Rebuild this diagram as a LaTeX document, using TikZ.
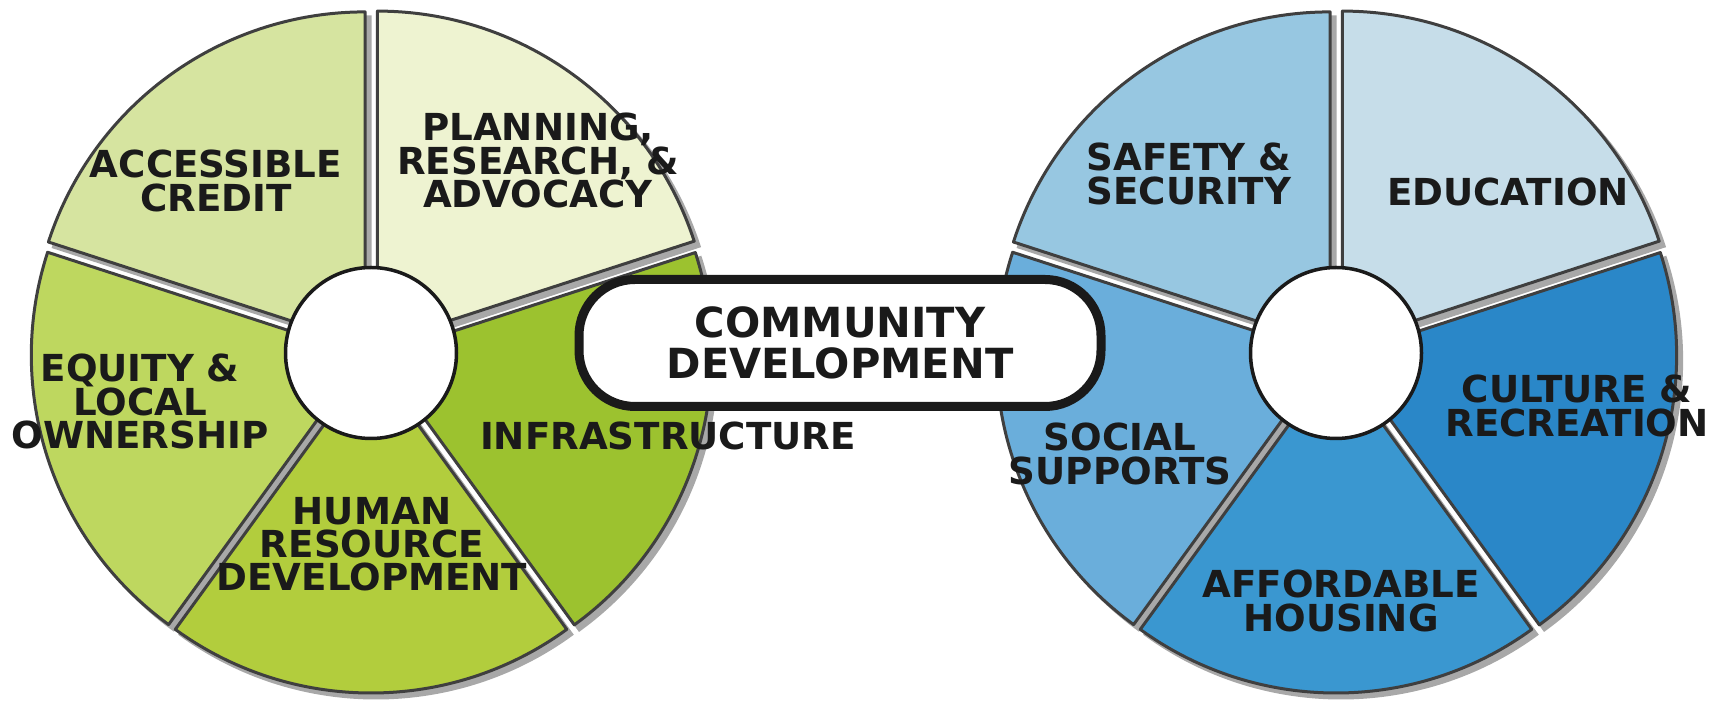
\documentclass[tikz,border=0pt]{standalone}
\usepackage{fontspec}
\setmainfont{DejaVu Sans}
\usetikzlibrary{calc}
\definecolor{segline}{HTML}{3F3F3F}
\definecolor{shadowgray}{HTML}{A8A8A8}
\definecolor{inkc}{HTML}{1A1A1A}
\definecolor{gAcc}{HTML}{D6E4A0}
\definecolor{gPlan}{HTML}{EEF3D1}
\definecolor{gInfra}{HTML}{9CC22F}
\definecolor{gHum}{HTML}{B2CD3D}
\definecolor{gEq}{HTML}{BED75F}
\definecolor{bSaf}{HTML}{97C7E1}
\definecolor{bEdu}{HTML}{C6DDE9}
\definecolor{bCul}{HTML}{2A87C8}
\definecolor{bAff}{HTML}{3A97D0}
\definecolor{bSoc}{HTML}{6AAEDB}
\newcommand\rad{333}
% #1 x, #2 y, #3 a1, #4 a2, #5 style, #6 colour, #7 offset
\newcommand\pieseg[7]{%
  \pgfmathsetmacro\segmid{(#3+#4)/2}%
  \path[#5, fill=#6] ($(#1,#2)+(\segmid:#7)$) -- ++(#3:\rad)
     arc[start angle=#3, end angle=#4, radius=\rad] -- cycle;%
}
\newcommand\wheel[7]{% #1 x, #2 style, #3..#7 colours (top-left, top-right, right, bottom, left)
  \pieseg{#1}{348}{90}{162}{#2}{#3}{10}
  \pieseg{#1}{348}{18}{90}{#2}{#4}{11}
  \pieseg{#1}{348}{-54}{18}{#2}{#5}{8}
  \pieseg{#1}{348}{-126}{-54}{#2}{#6}{7}
  \pieseg{#1}{348}{162}{234}{#2}{#7}{7}
}
\tikzset{
  shadowseg/.style={draw=shadowgray, line width=3pt, shift={(5pt,-5pt)}},
  seg/.style={draw=segline, line width=3pt, line join=round},
  hub/.style={circle, draw=inkc, line width=3.5pt, fill=white, minimum size=171pt, inner sep=0pt},
  lbl/.style={anchor=north, inner sep=0pt, align=center, text=inkc,
    font=\fontsize{37.2}{33.2}\selectfont\bfseries},
  pillbox/.style={rectangle, rounded corners=56pt, draw=inkc, line width=9pt, fill=white,
    minimum width=522pt, minimum height=127pt, inner sep=0pt, align=center, text=inkc,
    font=\fontsize{41.5}{41.5}\selectfont\bfseries}
}
\begin{document}
\begin{tikzpicture}[x=1pt,y=1pt]
\useasboundingbox (0,0) rectangle (1719,701);
% shadows
\wheel{371}{shadowseg}{shadowgray}{shadowgray}{shadowgray}{shadowgray}{shadowgray}
\wheel{1336}{shadowseg}{shadowgray}{shadowgray}{shadowgray}{shadowgray}{shadowgray}
% wheels
\wheel{371}{seg}{gAcc}{gPlan}{gInfra}{gHum}{gEq}
\wheel{1336}{seg}{bSaf}{bEdu}{bCul}{bAff}{bSoc}
% hubs
\node[hub] (hubL) at (371,348) {};
\node[hub] (hubR) at (1336,348) {};
% centre pill
\node[pillbox] (cd) at (840,358) {COMMUNITY\\DEVELOPMENT};
% labels
\node[lbl] (acc) at (216,551) {ACCESSIBLE\\CREDIT};
\node[lbl] (plan) at (538,588) {PLANNING,\\RESEARCH, \&\\ADVOCACY};
\node[lbl] (eq) at (140,347) {EQUITY \&\\LOCAL\\OWNERSHIP};
\node[lbl] (hum) at (372,204) {HUMAN\\RESOURCE\\DEVELOPMENT};
\node[lbl] (inf) at (668,279) {INFRASTRUCTURE};
\node[lbl] (saf) at (1189,558) {SAFETY \&\\SECURITY};
\node[lbl] (edu) at (1508,523) {EDUCATION};
\node[lbl] (cul) at (1577,326) {CULTURE \&\\RECREATION};
\node[lbl] (soc) at (1120,278) {SOCIAL\\SUPPORTS};
\node[lbl] (aff) at (1341,131) {AFFORDABLE\\HOUSING};
\end{tikzpicture}
\end{document}
